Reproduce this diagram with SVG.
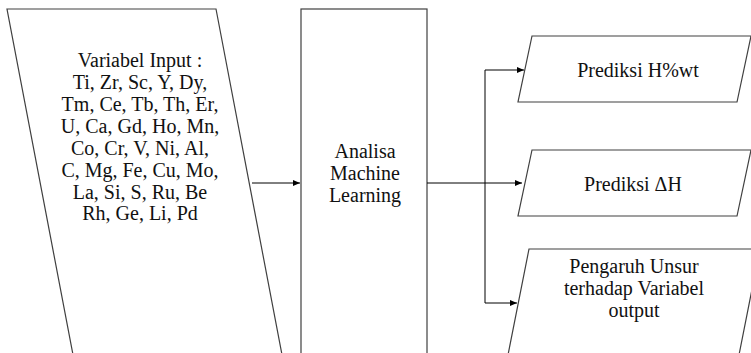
<svg xmlns="http://www.w3.org/2000/svg" width="751" height="353" viewBox="0 0 751 353">
<defs>
<marker id="ah" markerWidth="8" markerHeight="8" refX="7" refY="4" orient="auto" markerUnits="userSpaceOnUse">
<path d="M0,1 L7,4 L0,7 Z" fill="#000"/>
</marker>
<style>
.shape{fill:#fff;stroke:#404040;stroke-width:1.2}
.conn{fill:none;stroke:#000;stroke-width:1}
.t{font-family:"Liberation Serif","Times New Roman",serif;font-size:20px;fill:#111;text-anchor:middle}
</style>
</defs>
<rect width="751" height="353" fill="#fff"/>
<g id="input">
<polygon class="shape" points="7,9 216,9 283,360 74,360"/>
<text class="t" x="140" y="67">Variabel Input :</text>
<text class="t" x="140" y="89">Ti, Zr, Sc, Y, Dy,</text>
<text class="t" x="140" y="111">Tm, Ce, Tb, Th, Er,</text>
<text class="t" x="140" y="133">U, Ca, Gd, Ho, Mn,</text>
<text class="t" x="140" y="154.5">Co, Cr, V, Ni, Al,</text>
<text class="t" x="140" y="176.5">C, Mg, Fe, Cu, Mo,</text>
<text class="t" x="140" y="198.5">La, Si, S, Ru, Be</text>
<text class="t" x="140" y="220">Rh, Ge, Li, Pd</text>
</g>
<g id="ml">
<rect class="shape" x="301" y="9" width="126" height="360"/>
<text class="t" x="365" y="158">Analisa</text>
<text class="t" x="365" y="180">Machine</text>
<text class="t" x="365" y="202">Learning</text>
</g>
<g id="out1">
<polygon class="shape" points="532,36 751,36 737,102 518,102"/>
<text class="t" x="638" y="77">Prediksi H%wt</text>
</g>
<g id="out2">
<polygon class="shape" points="532,150 751,150 737,216 518,216"/>
<text class="t" x="633" y="191">Prediksi ΔH</text>
</g>
<g id="out3">
<polygon class="shape" points="529,249 760,249 738,360 507,360"/>
<text class="t" x="634" y="272.5">Pengaruh Unsur</text>
<text class="t" x="634" y="295">terhadap Variabel</text>
<text class="t" x="634" y="317">output</text>
</g>
<g id="connectors">
<line class="conn" x1="252" y1="183" x2="300" y2="183" marker-end="url(#ah)"/>
<line class="conn" x1="427" y1="183" x2="522" y2="183" marker-end="url(#ah)"/>
<polyline class="conn" points="485,70 485,303"/>
<line class="conn" x1="485" y1="70" x2="524" y2="70" marker-end="url(#ah)"/>
<line class="conn" x1="485" y1="303" x2="517" y2="303" marker-end="url(#ah)"/>
</g>
</svg>
